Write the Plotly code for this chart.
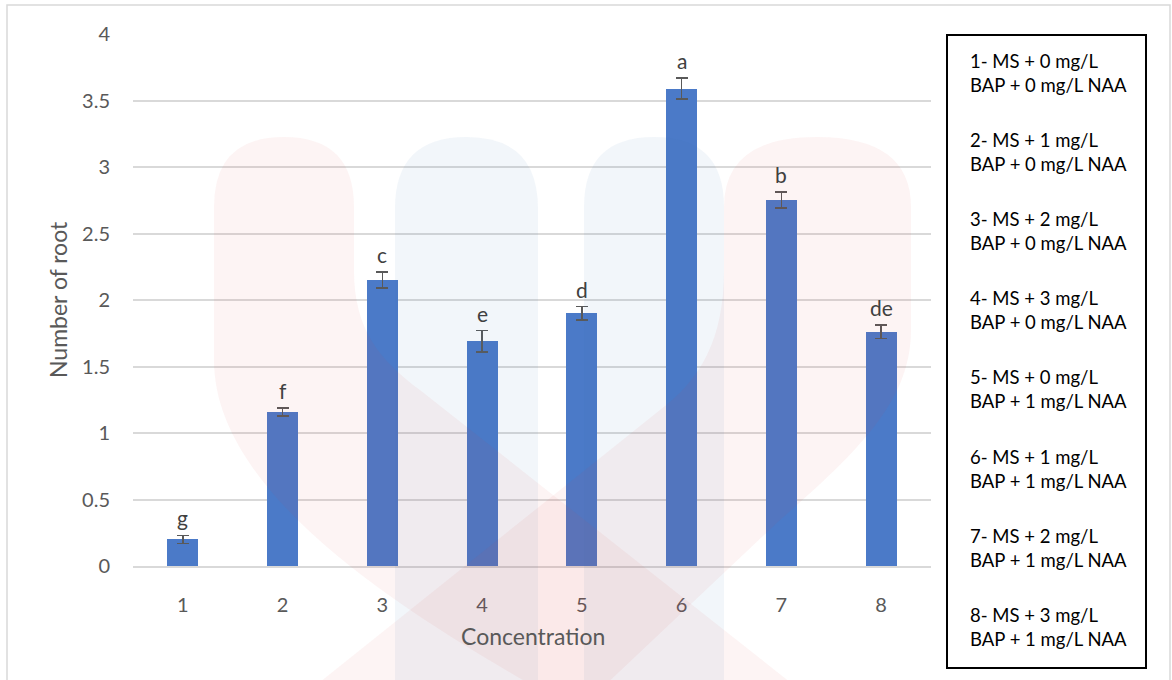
import plotly.graph_objects as go

# Treatments (concentration codes) and mean number of roots with standard errors
concentrations = ["1", "2", "3", "4", "5", "6", "7", "8"]
root_counts = [0.20, 1.16, 2.15, 1.69, 1.90, 3.59, 2.75, 1.76]
root_errors = [0.03, 0.03, 0.06, 0.08, 0.05, 0.08, 0.06, 0.05]
group_letters = ["g", "f", "c", "e", "d", "a", "b", "de"]

# Key to the concentration codes
treatment_key = [
    ("1- MS + 0 mg/L", "BAP + 0 mg/L NAA"),
    ("2- MS + 1 mg/L", "BAP + 0 mg/L NAA"),
    ("3- MS + 2 mg/L", "BAP + 0 mg/L NAA"),
    ("4- MS + 3 mg/L", "BAP + 0 mg/L NAA"),
    ("5- MS + 0 mg/L", "BAP + 1 mg/L NAA"),
    ("6- MS + 1 mg/L", "BAP + 1 mg/L NAA"),
    ("7- MS + 2 mg/L", "BAP + 1 mg/L NAA"),
    ("8- MS + 3 mg/L", "BAP + 1 mg/L NAA"),
]

W, H = 1172, 680
ML, MR, MT, MB = 133, 241, 34, 114
PW, PH = W - ML - MR, H - MT - MB
FONT = "Lato, 'Open Sans', sans-serif"
GREY = "#595959"


def px(x, y):
    """Pixel position on the page -> paper coordinates."""
    return (x - ML) / PW, (H - MB - y) / PH


def path(cmds):
    out = []
    for c in cmds:
        if isinstance(c, str):
            out.append(c)
        else:
            x, y = px(*c)
            out.append(f"{x:.4f},{y:.4f}")
    return " ".join(out)


fig = go.Figure()
fig.add_trace(go.Bar(
    x=concentrations,
    y=root_counts,
    width=0.31,
    marker=dict(color="#4b7ac8", line=dict(width=0)),
    error_y=dict(type="data", array=root_errors, visible=True,
                 color=GREY, thickness=1.6, width=6),
    hoverinfo="x+y",
))

shapes = []

# faint logo watermark across the chart
RED = "rgba(225,60,70,0.06)"
BLUE = "rgba(60,120,185,0.065)"


def pill(x0, x1, top, bottom, color):
    r = (x1 - x0) / 2
    cx = (x0 + x1) / 2
    return dict(type="path", xref="paper", yref="paper", layer="above",
                line=dict(width=0), fillcolor=color,
                path=path(["M", (x0, bottom), "L", (x0, top + r), "Q", (x0, top), (cx, top),
                           "Q", (x1, top), (x1, top + r), "L", (x1, bottom), "Z"]))


shapes.append(pill(395, 538, 137, 690, BLUE))
shapes.append(pill(584, 724, 137, 690, BLUE))
shapes.append(dict(type="path", xref="paper", yref="paper", layer="above",
                   line=dict(width=0), fillcolor=RED,
                   path=path(["M", (214, 207), "Q", (214, 137), (284, 137),
                              "Q", (354, 137), (354, 207), "L", (354, 270),
                              "C", (354, 330), (380, 360), (420, 390),
                              "L", (800, 690), "L", (540, 690),
                              "C", (420, 620), (214, 500), (214, 360), "Z"])))
shapes.append(dict(type="path", xref="paper", yref="paper", layer="above",
                   line=dict(width=0), fillcolor=RED,
                   path=path(["M", (724, 207), "Q", (724, 137), (817, 137),
                              "Q", (911, 137), (911, 207), "L", (911, 330),
                              "C", (911, 400), (860, 450), (780, 520),
                              "L", (600, 690), "L", (310, 690),
                              "L", (660, 410),
                              "C", (700, 380), (724, 340), (724, 270), "Z"])))

# outer chart frame
x0, y0 = px(7, 5)
x1, y1 = px(1170, 690)
shapes.append(dict(type="rect", xref="paper", yref="paper", x0=x0, y0=y1, x1=x1, y1=y0,
                   line=dict(color="#d9d9d9", width=1.5), fillcolor="rgba(0,0,0,0)", layer="below"))

# key box
x0, y0 = px(947, 35)
x1, y1 = px(1146, 668)
shapes.append(dict(type="rect", xref="paper", yref="paper", x0=x0, y0=y1, x1=x1, y1=y0,
                   line=dict(color="#000000", width=2), fillcolor="white", layer="below"))

annotations = []

# significance letters above the error bars
for i, (val, err, letter) in enumerate(zip(root_counts, root_errors, group_letters)):
    annotations.append(dict(x=i, y=val + err, xref="x", yref="y", text=letter,
                            showarrow=False, yanchor="bottom", yshift=3,
                            font=dict(family=FONT, size=21, color="#404040")))

# key text
for i, (l1, l2) in enumerate(treatment_key):
    yc = 61 + i * 79.1
    for j, line in enumerate((l1, l2)):
        ax, ay = px(968, yc + j * 24)
        annotations.append(dict(x=ax, y=ay, xref="paper", yref="paper", text=line,
                                showarrow=False, xanchor="left", yanchor="middle",
                                font=dict(family=FONT, size=18.5, color="#000000")))

# axis titles
ax, ay = px(533, 636)
annotations.append(dict(x=ax, y=ay, xref="paper", yref="paper", text="Concentration",
                        showarrow=False, xanchor="center", yanchor="middle",
                        font=dict(family=FONT, size=23, color=GREY)))
ax, ay = px(58, 300)
annotations.append(dict(x=ax, y=ay, xref="paper", yref="paper", text="Number of root",
                        showarrow=False, xanchor="center", yanchor="middle", textangle=-90,
                        font=dict(family=FONT, size=23, color=GREY)))

fig.update_layout(
    width=W, height=H, autosize=False,
    margin=dict(l=ML, r=MR, t=MT, b=MB, pad=0),
    paper_bgcolor="white", plot_bgcolor="white",
    showlegend=False,
    font=dict(family=FONT, color=GREY),
    shapes=shapes,
    annotations=annotations,
    xaxis=dict(type="category", categoryorder="array", categoryarray=concentrations,
               showgrid=False, showline=True, linecolor="#d9d9d9", linewidth=1.5,
               ticks="", ticklabelstandoff=20,
               tickfont=dict(family=FONT, size=20, color=GREY)),
    yaxis=dict(range=[0, 4], dtick=0.5, showgrid=True, gridcolor="#d9d9d9", gridwidth=1.5,
               zeroline=False, showline=False, ticks="", ticklabelstandoff=22,
               tickfont=dict(family=FONT, size=20, color=GREY)),
    bargap=0,
)

fig.write_html("out.html")
